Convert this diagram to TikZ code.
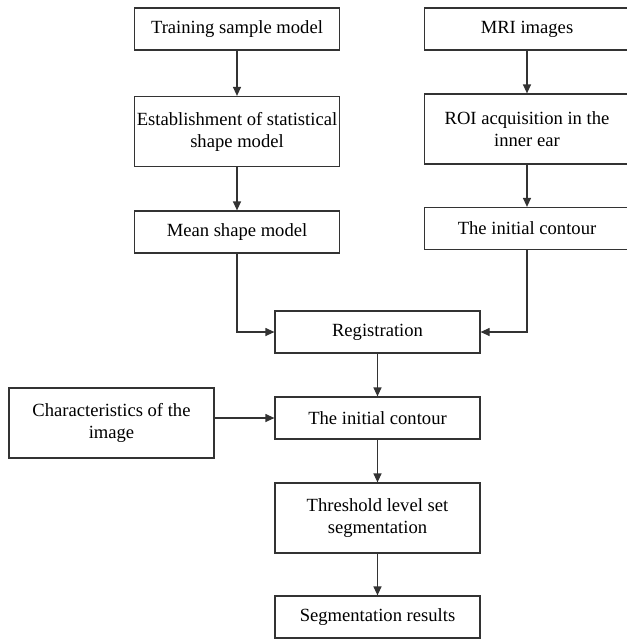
\documentclass[tikz,border=0pt]{standalone}
\usepackage{fontspec}
\setmainfont{Liberation Serif}
\usepackage{tikz}
\usetikzlibrary{arrows.meta}
\definecolor{boxColor}{gray}{0.2}

\begin{document}
\begin{tikzpicture}[x=0.5pt,y=-0.5pt,
	stepbox/.style={draw=boxColor,line width=0.6pt,minimum width=102.5pt,minimum height=21pt,inner sep=1pt,align=center,font=\fontsize{9.3}{11}\selectfont},
	tallbox/.style={stepbox,minimum height=35pt},
	flow/.style={draw=boxColor,line width=0.6pt,-{Triangle[length=4.5pt,width=4pt]}}]
\useasboundingbox (0,0) rectangle (627,639);
%
% left column
\node[stepbox] (train) at (237,29) {Training sample model};
\node[tallbox] (estab) at (237,131.5) {Establishment of statistical\\shape model};
\node[stepbox] (mean) at (237,232) {Mean shape model};
% right column
\node[stepbox] (mri) at (527,29) {MRI images};
\node[tallbox] (roi) at (527,129) {ROI acquisition in the\\inner ear};
\node[stepbox] (init1) at (527,228.5) {The initial contour};
% middle column
\node[stepbox] (reg) at (377.5,332) {Registration};
\node[stepbox] (init2) at (377.5,418) {The initial contour};
\node[tallbox] (chars) at (111.5,423) {Characteristics of the\\image};
\node[tallbox] (thresh) at (377.5,518) {Threshold level set\\segmentation};
\node[stepbox] (seg) at (377.5,617) {Segmentation results};
%
\path[flow] (train) -- (estab);
\path[flow] (estab) -- (mean);
\path[flow] (mri) -- (roi);
\path[flow] (roi) -- (init1);
\path[flow] (mean.south) |- (reg.west);
\path[flow] (init1.south) |- (reg.east);
\path[flow] (reg) -- (init2);
\path[flow] (chars.east |- init2.west) -- (init2.west);
\path[flow] (init2) -- (thresh);
\path[flow] (thresh) -- (seg);
%
\end{tikzpicture}
\end{document}
